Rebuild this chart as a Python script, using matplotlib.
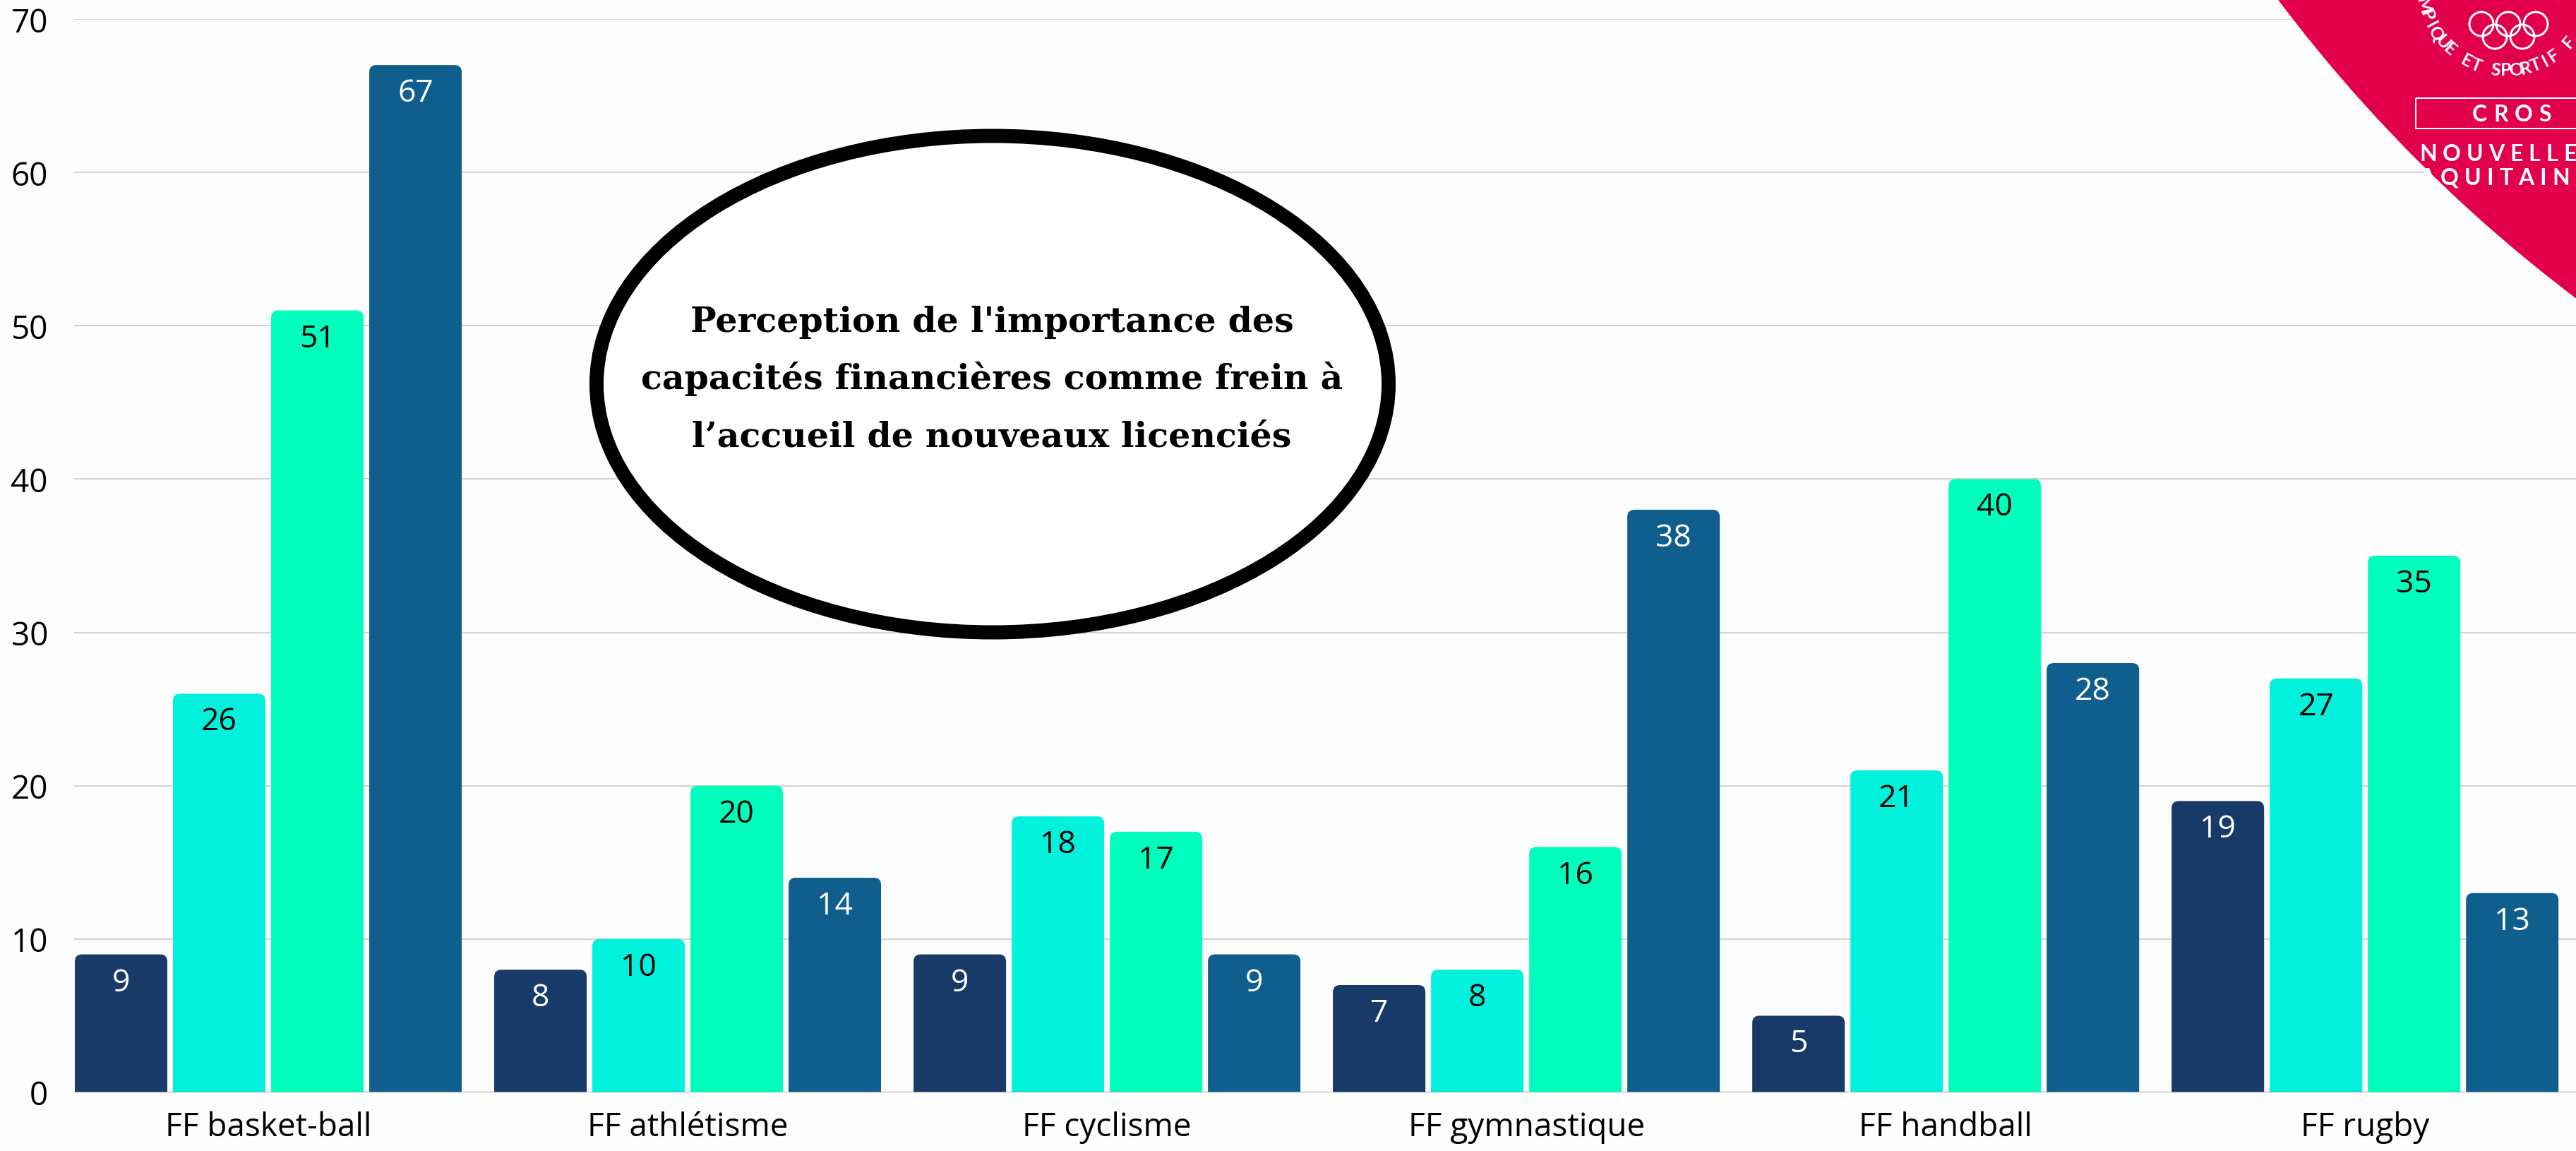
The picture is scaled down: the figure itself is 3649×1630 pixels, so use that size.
import math

import matplotlib

matplotlib.use("Agg")
import matplotlib.pyplot as plt
import numpy as np
from matplotlib.patches import Circle, Ellipse, FancyBboxPatch, Rectangle

W, H, DPI = 3649, 1631, 100

federations = ["FF basket-ball", "FF athlétisme", "FF cyclisme",
               "FF gymnastique", "FF handball", "FF rugby"]
serie_1 = [9, 8, 9, 7, 5, 19]
serie_2 = [26, 10, 18, 8, 21, 27]
serie_3 = [51, 20, 17, 16, 40, 35]
serie_4 = [67, 14, 9, 38, 28, 13]
y_ticks = [0, 10, 20, 30, 40, 50, 60, 70]

title_lines = ["Perception de l'importance des",
               "capacités financières comme frein à",
               "l’accueil de nouveaux licenciés"]

series = [serie_1, serie_2, serie_3, serie_4]
bar_colors = ["#173a69", "#00f2dc", "#00ffbc", "#0f5e8e"]
value_colors = ["white", "black", "black", "white"]
RED = "#e2004a"

plt.rcParams["font.family"] = ["Open Sans", "DejaVu Sans"]


def px(v):
    # pixels -> points at this dpi
    return v * 72 / DPI


fig = plt.figure(figsize=(W / DPI, H / DPI), dpi=DPI, facecolor="#fdfdfd")
ax = fig.add_axes([105 / W, 83 / H, (W - 105) / W, 1520 / H])
ax.set_facecolor("none")
ax.set_xlim(-0.463, 5.503)
ax.set_ylim(0, 70)
for s in ax.spines.values():
    s.set_visible(False)

x = np.arange(len(federations))
pitch, width = 0.234, 0.2205

# corner radius of ~10px expressed in data units on each axis
rx = 10 * (5.503 + 0.463) / (W - 105)
ry = 10 * 70 / 1520

for k, (vals, col, tcol) in enumerate(zip(series, bar_colors, value_colors)):
    bars = ax.bar(x + (k - 1.5) * pitch, vals, width, color=col, zorder=3)
    for b, v in zip(bars, vals):
        b.set_visible(False)
        ax.add_patch(FancyBboxPatch(
            (b.get_x(), -1), b.get_width(), b.get_height() + 1,
            boxstyle=f"round,pad=0,rounding_size={rx}",
            mutation_aspect=ry / rx, fc=col, ec="none", zorder=3))
        ax.annotate(str(v), xy=(b.get_x() + b.get_width() / 2, v),
                    xytext=(0, -px(51)), textcoords="offset points",
                    ha="center", va="baseline", fontsize=32, color=tcol,
                    zorder=4)

ax.set_axisbelow(True)
ax.yaxis.grid(True, color="#d3d3d3", lw=1.5)
ax.axhline(0, color="#9a9a9a", lw=1.8, zorder=4)
ax.set_yticks(y_ticks)
ax.set_xticks(x, federations)
ax.tick_params(axis="y", length=0, pad=px(37), labelsize=33)
ax.tick_params(axis="x", length=0, pad=px(26), labelsize=33)

# overlay in figure pixels (y down) for title bubble and logo
ov = fig.add_axes([0, 0, 1, 1])
ov.set_xlim(0, W)
ov.set_ylim(H, 0)
ov.axis("off")

ov.add_patch(Circle((4940, -1287), 2143, fc=RED, ec="none"))
ov.add_patch(Ellipse((1406, 545), 1122, 703, fc="white", ec="black", lw=px(20)))
for i, line in enumerate(title_lines):
    ov.text(1405, 470 + 81.5 * i, line, ha="center", va="baseline",
            fontsize=35.3, fontweight="bold", family=["DejaVu Serif"])

# olympic rings
for cx, cy in [(3515, 35), (3553, 35), (3592, 35), (3534, 53), (3573, 53)]:
    ov.add_patch(Circle((cx, cy), 17, fill=False, ec="white", lw=px(3)))

# seal text on an arc
seal = "COMITÉ RÉGIONAL OLYMPIQUE ET SPORTIF FRANÇAIS"
m_idx = seal.index("MPIQUE")
for i, ch in enumerate(seal):
    theta = 166 - (i - m_idx) * 6.9
    if theta < 38 or theta > 170:
        continue
    t = math.radians(theta)
    ov.text(3550 + 120 * math.cos(t), -20 + 120 * math.sin(t), ch,
            rotation=90 - theta, rotation_mode="anchor", ha="center",
            va="center", fontsize=18, fontweight="bold", color="white",
            family=["Lato", "DejaVu Sans"])

renderer = fig.canvas.get_renderer()


def tracked(x0, y0, s, tracking, **kw):
    xx = x0
    for ch in s:
        t = ov.text(xx, y0, ch, ha="left", va="center", **kw)
        xx += t.get_window_extent(renderer).width + tracking


logo_font = dict(fontsize=23, fontweight="bold", color="white",
                 family=["Lato", "DejaVu Sans"])
ov.add_patch(Rectangle((3422, 140), 300, 43, fill=False, ec="white", lw=px(2)))
tracked(3502, 162, "CROS", 9, **logo_font)
tracked(3427, 218, "NOUVELLE", 8, **logo_font)
tracked(3427, 252, "AQUITAINE", 8, **logo_font)

fig.savefig("out.png", dpi=DPI, facecolor=fig.get_facecolor())
